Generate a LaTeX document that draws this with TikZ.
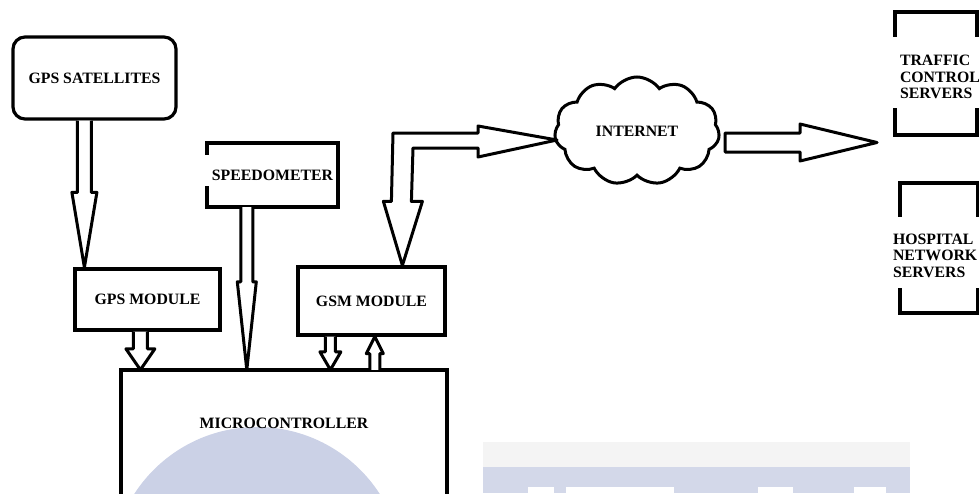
\documentclass[tikz,border=0pt]{standalone}
\usepackage{fontspec}
\setmainfont{Liberation Serif}
\usetikzlibrary{calc,shapes.symbols}

\definecolor{wmblue}{HTML}{CBD1E6}
\definecolor{wmband}{HTML}{D3D8E9}
\definecolor{wmgray}{HTML}{F4F4F4}

\tikzset{
  lbl/.style={font=\fontsize{15.8}{16.5}\selectfont\bfseries, inner sep=0pt},
  blk/.style={lbl, draw, line width=3.2pt},
  edgeline/.style={draw, line width=3.2pt, line cap=rect, line join=miter},
  barrow/.style={draw, line width=3pt, line join=round, fill=white},
}

% vertical block arrow: #1 tail, #2 tip, #3 half shaft, #4 half head, #5 signed head length
\newcommand\vblockarrow[5]{%
  \draw[barrow] ($(#1)+(-#3,0)$) -- ($(#2)+(-#3,#5)$) -- ($(#2)+(-#4,#5)$) -- (#2)
    -- ($(#2)+(#4,#5)$) -- ($(#2)+(#3,#5)$) -- ($(#1)+(#3,0)$);}
% horizontal block arrow, closed tail
\newcommand\hblockarrow[5]{%
  \draw[barrow] ($(#1)+(0,-#3)$) -- ($(#2)+(#5,-#3)$) -- ($(#2)+(#5,-#4)$) -- (#2)
    -- ($(#2)+(#5,#4)$) -- ($(#2)+(#5,#3)$) -- ($(#1)+(0,#3)$) -- cycle;}
% open-sided frame pieces relative to a node centre: #1 node, #2 half width, #3 top, #4 bottom, #5 top arm, #6 bottom arm
\newcommand\serverframe[6]{%
  \path[edgeline] ($(#1.center)+(-#2,#3+#5)$) -- ($(#1.center)+(-#2,#3)$) -- ($(#1.center)+(#2,#3)$) -- ($(#1.center)+(#2,#3+#5)$);
  \path[edgeline] ($(#1.center)+(-#2,#4-#6)$) -- ($(#1.center)+(-#2,#4)$) -- ($(#1.center)+(#2,#4)$) -- ($(#1.center)+(#2,#4-#6)$);}

\begin{document}
\begin{tikzpicture}[x=1pt,y=-1pt]
\useasboundingbox (0,0) rectangle (979,493);

% faint watermark behind the drawing
\fill[wmblue] (257,573) circle (146);
\fill[wmgray] (483,442) rectangle (910,467);
\fill[wmband] (483,467) rectangle (910,493);
\fill[white] (528,487) rectangle (554,493);
\fill[white] (566,487) rectangle (674,493);
\fill[white] (758,487) rectangle (793,493);
\fill[white] (854,487) rectangle (886,493);

% blocks
\node[blk, rounded corners=12pt, minimum width=163pt, minimum height=82pt] (gpssat) at (94.5,78) {GPS SATELLITES};
\node[blk, minimum width=145pt, minimum height=61pt] (gpsmod) at (147.5,299.5) {GPS MODULE};
\node[lbl, minimum width=131pt, minimum height=64pt] (speedo) at (272.5,175) {SPEEDOMETER};
\node[blk, minimum width=147pt, minimum height=68pt] (gsmmod) at (371.5,301) {GSM MODULE};
\node[lbl, minimum width=326pt, minimum height=106pt] (micro) at (284,423) {MICROCONTROLLER};
\node[lbl, cloud, draw, line width=3pt, cloud puffs=11, cloud puff arc=110, aspect=1.5,
      minimum width=165pt, minimum height=108pt] (net) at (637,131) {INTERNET};
\node[lbl, align=left, text width=72pt] (traffic) at (936,77) {TRAFFIC\\CONTROL\\SERVERS};
\node[lbl, align=left, text width=92pt] (hospital) at (939,255.5) {HOSPITAL\\NETWORK\\SERVERS};

% speedometer frame, left side open in the middle
\serverframe{speedo}{65.5}{-32}{32}{10}{19}
\path[edgeline] ($(speedo.center)+(65.5,-32)$) -- ($(speedo.center)+(65.5,32)$);
% microcontroller runs off the bottom
\path[edgeline] ($(micro.center)+(-163,80)$) -- ($(micro.center)+(-163,-53)$) -- ($(micro.center)+(163,-53)$) -- ($(micro.center)+(163,80)$);
% server frames
\serverframe{traffic}{41}{-65}{58}{23}{25}
\serverframe{hospital}{39}{-72.5}{57.5}{32}{23}

% arrow end points
\coordinate (satout) at ($(gpssat.south west)+(73,0)$);
\coordinate (satin)  at (satout |- gpsmod.north);
\coordinate (gpsout) at ($(gpsmod.south west)+(67,0)$);
\coordinate (gpsin)  at (gpsout |- micro.north);
\coordinate (spdout) at ($(speedo.south west)+(40,0)$);
\coordinate (spdin)  at (spdout |- micro.north);
\coordinate (gsmout) at ($(gsmmod.south west)+(34,0)$);
\coordinate (gsmin)  at (gsmout |- micro.north);
\coordinate (mcout)  at ($(micro.north west)+(254,0)$);
\coordinate (mcin)   at (mcout |- gsmmod.south);
\coordinate (netout) at (725,142.5);
\coordinate (netin)  at (877,142.5);
\coordinate (bendD)  at ($(gsmmod.north west)+(106,0)$);
\coordinate (bendR)  at (557,140);

\vblockarrow{satout}{satin}{7}{12.5}{-75}
\vblockarrow{gpsout}{gpsin}{7}{14.5}{-21}
\vblockarrow{spdout}{spdin}{6}{9.5}{-88}
\vblockarrow{gsmout}{gsmin}{5}{10.5}{-18}
\vblockarrow{mcout}{mcin}{5}{8.5}{17}
\hblockarrow{netout}{netin}{9.5}{18.5}{-77}

% bent two-headed arrow between the GSM module and the internet
\draw[barrow] (bendD) -- ($(bendD)+(20,-64)$) -- ($(bendD)+(9,-64)$) -- ($(bendR)+(-144,8)$)
  -- ($(bendR)+(-79,8)$) -- ($(bendR)+(-79,17)$) -- (bendR) -- ($(bendR)+(-79,-14)$)
  -- ($(bendR)+(-79,-7)$) -- ($(bendR)+(-164,-7)$) -- ($(bendD)+(-11,-64)$)
  -- ($(bendD)+(-19,-64)$) -- cycle;
\end{tikzpicture}
\end{document}
